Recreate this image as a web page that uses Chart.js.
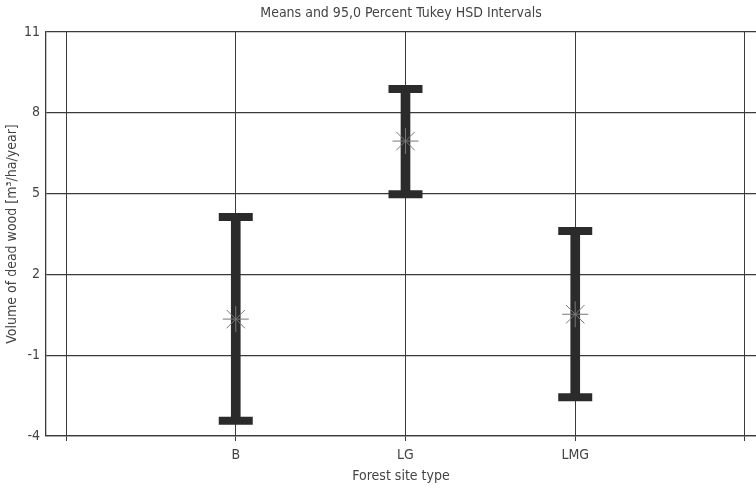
<!DOCTYPE html>
<html>
<head>
<meta charset="utf-8">
<script src="https://cdn.jsdelivr.net/npm/chart.js@4.4.1/dist/chart.umd.min.js"></script>
<style>
  html, body { margin: 0; padding: 0; background: #fff; overflow: hidden; }
  #wrap { width: 756px; height: 489px; }
</style>
</head>
<body>
<div id="wrap"><canvas id="hsdChart" width="756" height="489"></canvas></div>
<script>
const categories = ["B", "LG", "LMG"];
const means = [0.34, 6.95, 0.52];
const lower = [-3.43, 4.98, -2.56];
const upper = [4.13, 8.88, 3.61];
const yTicks = [-4, -1, 2, 5, 8, 11];

const FONT = "'DejaVu Sans Condensed', 'Liberation Sans Narrow', sans-serif";
const TEXT = "#444";
const GRID = "#3a3a3a";
const BAR = "#2b2b2b";

const intervals = categories.map((c, i) => ({ x: i, y: [lower[i], upper[i]] }));
const caps = [];
categories.forEach((c, i) => {
  caps.push({ x: i, y: upper[i] });
  caps.push({ x: i, y: lower[i] });
});
const meanPts = categories.map((c, i) => ({ x: i, y: means[i] }));

new Chart(document.getElementById("hsdChart"), {
  data: {
    datasets: [
      {
        type: "bar",
        xAxisID: "x",
        yAxisID: "y",
        data: intervals,
        backgroundColor: BAR,
        barThickness: 9,
        order: 3,
      },
      {
        type: "scatter",
        xAxisID: "x",
        yAxisID: "y",
        data: caps,
        pointStyle: "line",
        radius: 17,
        borderWidth: 8,
        borderColor: BAR,
        order: 2,
      },
      {
        type: "scatter",
        xAxisID: "x",
        yAxisID: "y",
        data: meanPts,
        pointStyle: "star",
        radius: 13,
        borderWidth: 1,
        borderColor: "#777",
        order: 1,
      },
    ],
  },
  options: {
    responsive: false,
    animation: false,
    layout: { padding: 0, autoPadding: false },
    plugins: {
      legend: { display: false },
      tooltip: { enabled: false },
    },
    scales: {
      x: {
        type: "linear",
        offset: false,
        min: -1.118,
        max: 3.065,
        afterBuildTicks: (scale) => {
          scale.ticks = [-1, 0, 1, 2, 3].map((v) => ({ value: v }));
        },
        afterFit: (scale) => { scale.height = 53; },
        ticks: {
          color: TEXT,
          font: { family: FONT, size: 14 },
          padding: 6,
          autoSkip: false,
          maxRotation: 0,
          callback: (v) => categories[v] ?? "",
        },
        grid: { offset: false, color: GRID, lineWidth: 1, tickLength: 5, tickColor: GRID },
        border: { color: GRID, width: 1.3 },
        title: {
          display: true,
          text: "Forest site type",
          color: TEXT,
          font: { family: FONT, size: 14 },
          padding: { top: 0 },
        },
      },
      y: {
        min: -4,
        max: 11,
        afterBuildTicks: (scale) => {
          scale.ticks = yTicks.map((v) => ({ value: v }));
        },
        afterFit: (scale) => { scale.width = 46; },
        ticks: {
          color: TEXT,
          font: { family: FONT, size: 14 },
          padding: 6,
        },
        grid: { color: GRID, lineWidth: 1.3, drawTicks: false },
        border: { color: GRID, width: 1.3 },
        title: {
          display: true,
          text: "Volume of dead wood [m³/ha/year]",
          color: TEXT,
          font: { family: FONT, size: 14 },
          padding: { bottom: 0 },
        },
      },
      // top axis only carries the title, centred over the plot area
      top: {
        type: "linear",
        position: "top",
        min: 0,
        max: 1,
        afterFit: (scale) => { scale.height = 32; },
        ticks: { display: false },
        grid: { display: false },
        border: { display: false },
        title: {
          display: true,
          text: "Means and 95,0 Percent Tukey HSD Intervals",
          color: TEXT,
          font: { family: FONT, size: 14 },
          padding: { top: 5, bottom: 0 },
        },
      },
    },
  },
});
</script>
</body>
</html>
